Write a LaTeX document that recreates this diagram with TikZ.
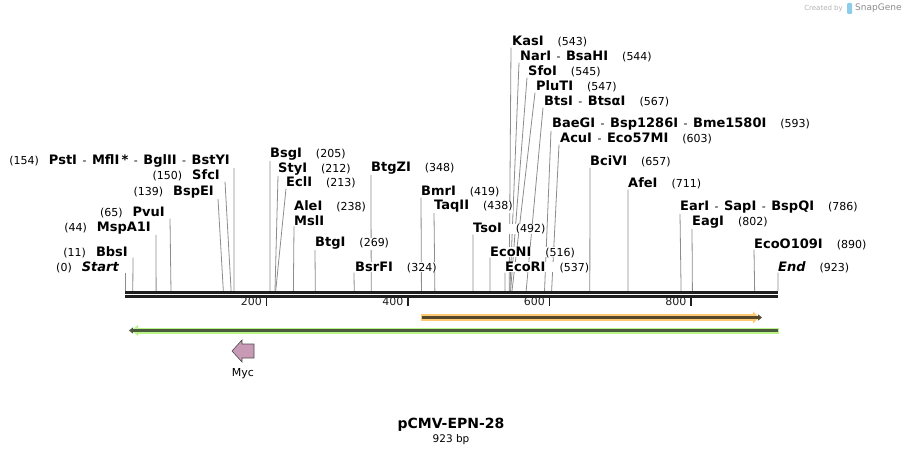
\documentclass[tikz,border=0pt]{standalone}
\usepackage{fontspec}
\setmainfont{DejaVu Sans}
\usetikzlibrary{positioning}
\usetikzlibrary{arrows.meta}
\usetikzlibrary{backgrounds}

\definecolor{cutgray}{HTML}{8C8C8C}
\definecolor{orglite}{HTML}{FFC972}
\definecolor{orgdark}{HTML}{55472C}
\definecolor{grnlite}{HTML}{B9F48A}
\definecolor{grndark}{HTML}{4B5A3C}
\definecolor{mycfill}{HTML}{C99AB6}
\definecolor{sgblue}{HTML}{8CCDEB}

\newcommand{\enzname}[1]{{\fontsize{13}{15}\selectfont\bfseries#1}}
\newcommand{\enzsep}{\enspace-\enspace}
\newcommand{\numgap}{\hspace{14pt}}

\tikzset{
  rsite/.style={anchor=base west, inner sep=0pt, fill=white, font=\fontsize{11}{13}\selectfont},
  lsite/.style={anchor=base east, inner sep=0pt, fill=white, font=\fontsize{11}{13}\selectfont},
  cutline/.style={draw=cutgray, line width=0.8pt},
  backbone/.style={line width=3pt, black!88},
  ticklab/.style={anchor=base east, inner sep=0pt, font=\fontsize{11}{13}\selectfont},
}

\begin{document}
\begin{tikzpicture}[x=1pt,y=-1pt]
\useasboundingbox (0,0) rectangle (904,454);

% positions on the backbone (bp -> x)
\foreach \bp in {0,11,44,65,139,150,154,205,212,213,238,269,324,348,419,438,492,516,537,543,544,545,547,567,593,603,657,711,786,802,890,923}
  \coordinate (s\bp) at ({125+\bp*0.70748},291);

% labels left of their cut
\node[lsite] (pst) at (230,165) {(154)\hspace{10pt}\enzname{PstI}\enzsep\enzname{MflI\,*}\enzsep\enzname{BglII}\enzsep\enzname{BstYI}};
\node[lsite] (sfc) at (220,180) {(150)\hspace{10pt}\enzname{SfcI}};
\node[lsite] (bspe) at (214,196) {(139)\hspace{10pt}\enzname{BspEI}};
\node[lsite] (pvu) at (165,217) {(65)\hspace{10pt}\enzname{PvuI}};
\node[lsite] (msp) at (151,232) {(44)\hspace{10pt}\enzname{MspA1I}};
\node[lsite] (bbs) at (128,256) {(11)\hspace{10pt}\enzname{BbsI}};
\node[lsite] (startl) at (119,271) {(0)\hspace{10pt}\enzname{\itshape Start}};

% labels right of their cut
\node[rsite] (bsg) at (270,158) {\enzname{BsgI}\numgap(205)};
\node[rsite] (sty) at (278,173) {\enzname{StyI}\numgap(212)};
\node[rsite] (ecl) at (286,187) {\enzname{EclI}\numgap(213)};
\node[rsite] (ale) at (294,211) {\enzname{AleI}\numgap(238)};
\node[rsite] (msl) at (294,226) {\enzname{MslI}};
\node[rsite] (btg) at (315,247) {\enzname{BtgI}\numgap(269)};
\node[rsite] (bsrf) at (355,271) {\enzname{BsrFI}\numgap(324)};
\node[rsite] (btgz) at (371,172) {\enzname{BtgZI}\numgap(348)};
\node[rsite] (bmr) at (421,196) {\enzname{BmrI}\numgap(419)};
\node[rsite] (taq) at (434,210) {\enzname{TaqII}\numgap(438)};
\node[rsite] (tso) at (473,233) {\enzname{TsoI}\numgap(492)};
\node[rsite] (econ) at (490,256) {\enzname{EcoNI}\numgap(516)};
\node[rsite] (ecor) at (505,271) {\enzname{EcoRI}\numgap(537)};
\node[rsite] (kas) at (512,46) {\enzname{KasI}\numgap(543)};
\node[rsite] (nar) at (520,61) {\enzname{NarI}\enzsep\enzname{BsaHI}\numgap(544)};
\node[rsite] (sfo) at (528,76) {\enzname{SfoI}\numgap(545)};
\node[rsite] (plu) at (536,91) {\enzname{PluTI}\numgap(547)};
\node[rsite] (bts) at (544,106) {\enzname{BtsI}\enzsep\enzname{BtsαI}\numgap(567)};
\node[rsite] (bae) at (552,128) {\enzname{BaeGI}\enzsep\enzname{Bsp1286I}\enzsep\enzname{Bme1580I}\numgap(593)};
\node[rsite] (acu) at (560,143) {\enzname{AcuI}\enzsep\enzname{Eco57MI}\numgap(603)};
\node[rsite] (bci) at (590,166) {\enzname{BciVI}\numgap(657)};
\node[rsite] (afe) at (628,188) {\enzname{AfeI}\numgap(711)};
\node[rsite] (ear) at (680,211) {\enzname{EarI}\enzsep\enzname{SapI}\enzsep\enzname{BspQI}\numgap(786)};
\node[rsite] (eag) at (692,226) {\enzname{EagI}\numgap(802)};
\node[rsite] (eco109) at (754,248) {\enzname{EcoO109I}\numgap(890)};
\node[rsite] (endl) at (778,271) {\enzname{\itshape End}\numgap(923)};

\begin{scope}[on background layer]
\draw[cutline] ([xshift=4pt]pst.south east) -- (s154);
\draw[cutline] ([xshift=5pt]sfc.south east) -- (s150);
\draw[cutline] ([xshift=4pt]bspe.south east) -- (s139);
\draw[cutline] ([xshift=5pt]pvu.south east) -- (s65);
\draw[cutline] ([xshift=5pt]msp.south east) -- (s44);
\draw[cutline] ([xshift=5pt]bbs.south east) -- (s11);
\draw[cutline] ([xshift=6pt]startl.south east) -- (s0);
\draw[cutline] (bsg.south west) -- (s205);
\draw[cutline] (sty.south west) -- (s212);
\draw[cutline] (ecl.south west) -- (s213);
\draw[cutline] (msl.south west) -- (s238);
\draw[cutline] (btg.south west) -- (s269);
\draw[cutline] ([xshift=-1pt]bsrf.south west) -- (s324);
\draw[cutline] (btgz.south west) -- (s348);
\draw[cutline] (bmr.south west) -- (s419);
\draw[cutline] (taq.south west) -- (s438);
\draw[cutline] (tso.south west) -- (s492);
\draw[cutline] (econ.south west) -- (s516);
\draw[cutline] (ecor.south west) -- (s537);
\draw[cutline] ([xshift=-1pt]kas.south west) -- (s543);
\draw[cutline] ([xshift=-1pt]nar.south west) -- (s544);
\draw[cutline] ([xshift=-1pt]sfo.south west) -- (s545);
\draw[cutline] ([xshift=-1pt]plu.south west) -- (s547);
\draw[cutline] ([xshift=-1pt]bts.south west) -- (s567);
\draw[cutline] ([xshift=-1pt]bae.south west) -- (s593);
\draw[cutline] ([xshift=-1pt]acu.south west) -- (s603);
\draw[cutline] (bci.south west) -- (s657);
\draw[cutline] (afe.south west) -- (s711);
\draw[cutline] (ear.south west) -- (s786);
\draw[cutline] (eag.south west) -- (s802);
\draw[cutline] (eco109.south west) -- (s890);
\draw[cutline] (endl.south west) -- (s923);
\end{scope}

% backbone and ruler
\coordinate (bbL) at (125,292.3);
\coordinate (bbR) at (778,292.3);
\draw[backbone] (bbL) -- (bbR);
\draw[backbone, line width=2.6pt] ([yshift=-4.3pt]bbL) -- ([yshift=-4.3pt]bbR);
\foreach \t in {200,400,600,800}
  \draw[line width=1.4pt, black!88] ({125+\t*0.70748},297) -- ++(0,9)
    node[ticklab, pos=1, xshift=-4pt, yshift=1pt] (tk\t) {\t};

% features
\coordinate (orgA) at (421,317.5);
\coordinate (orgB) at (763,317.5);
\draw[orglite, line width=7pt, -{Triangle[length=6pt,width=12pt]}] (orgA) -- ([xshift=-4pt]orgB);
\draw[orgdark, line width=2.6pt, -{Triangle[length=4pt,width=6pt]}] ([xshift=1pt]orgA) -- ([xshift=-1pt]orgB);
\coordinate (grnA) at (779,330.5);
\coordinate (grnB) at (127,330.5);
\draw[grnlite, line width=6pt, -{Triangle[length=6pt,width=11pt]}] (grnA) -- ([xshift=5pt]grnB);
\draw[grndark, line width=2.4pt, -{Triangle[length=4pt,width=6pt]}] ([xshift=-1pt]grnA) -- ([xshift=2pt]grnB);

\draw[fill=mycfill, draw=black!70, line width=0.6pt]
  (254,344) -- (242,344) -- (242,340) -- (232,351) -- (242,362) -- (242,358) -- (254,358) -- cycle;
\coordinate (myc) at (243,362);
\node[font=\fontsize{11}{13}\selectfont, below=3pt of myc] (myclab) {Myc};

% title
\node[anchor=base, font=\fontsize{14}{16}\selectfont\bfseries] (title) at (451,428) {pCMV-EPN-28};
\node[anchor=base, font=\fontsize{10.5}{12}\selectfont] (len) at (451,442) {923 bp};

% logo
\node[anchor=base east, text=black!30, font=\fontsize{7}{8}\selectfont, inner sep=0pt] (crby) at (843,11) {Created by};
\fill[sgblue, rounded corners=1pt] (847,3) rectangle (852,14);
\node[anchor=base west, text=black!45, font=\fontsize{9}{10}\selectfont, inner sep=0pt] (sg) at (855,11) {SnapGene};
\end{tikzpicture}
\end{document}
